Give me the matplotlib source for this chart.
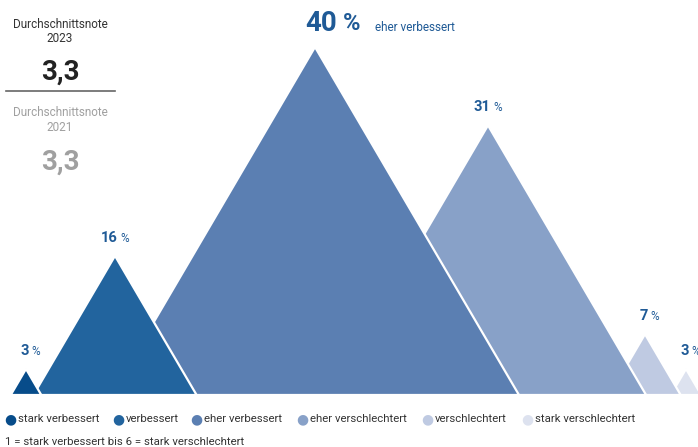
import matplotlib
matplotlib.use("Agg")
import matplotlib.pyplot as plt
from matplotlib.patches import Polygon

plt.rcParams['font.family'] = ['Roboto', 'DejaVu Sans']

# data
categories = ['stark verbessert', 'verbessert', 'eher verbessert',
              'eher verschlechtert', 'verschlechtert', 'stark verschlechtert']
values = [3, 16, 40, 31, 7, 3]
colors = ['#074c8a', '#22649e', '#5b7fb2', '#88a1c8', '#bfcae2', '#dde2ef']
note_2023 = '3,3'
note_2021 = '3,3'

# layout (pixels)
W, H = 698, 447
base_px = 395
px_per_pct = 8.7
half_w = 5.1          # half base width per percent, in px
centers = [26, 115, 315, 488, 645, 686]
legend_x = [10, 118, 196, 302, 427, 527]
label_blue = '#1f5a96'

fig = plt.figure(figsize=(W / 100, H / 100), dpi=100)
ax = fig.add_axes([0, (H - base_px) / H, 1, base_px / H])
ax.set_xlim(0, W)
ax.set_ylim(0, base_px / px_per_pct)
ax.axis('off')

for i, (c, v, col) in enumerate(zip(centers, values, colors)):
    tri = Polygon([(c - half_w * v, 0), (c, v), (c + half_w * v, 0)],
                  closed=True, facecolor=col, edgecolor='white',
                  linewidth=1.6, zorder=10 - i, clip_on=False)
    ax.add_patch(tri)
    if v == max(values):
        ax.annotate(str(v), (c, v), xytext=(16, 17), textcoords='offset points',
                    ha='right', va='center', fontsize=20, fontweight='semibold',
                    color=label_blue, zorder=20)
        ax.annotate('%', (c, v), xytext=(20, 17), textcoords='offset points',
                    ha='left', va='center', fontsize=17, fontweight='semibold',
                    color=label_blue, zorder=20)
        ax.annotate(categories[i], (c, v), xytext=(43, 14), textcoords='offset points',
                    ha='left', va='center', fontsize=8.5, color=label_blue, zorder=20)
    else:
        ax.annotate(str(v), (c, v), xytext=(2, 13), textcoords='offset points',
                    ha='right', va='center', fontsize=10.5, fontweight='semibold',
                    color=label_blue, zorder=20)
        ax.annotate('%', (c, v), xytext=(4, 12.5), textcoords='offset points',
                    ha='left', va='center', fontsize=8.5,
                    color=label_blue, zorder=20)


def ft(x, y, s, **kw):
    fig.text(x / W, 1 - y / H, s, **kw)


# left panel
ft(60, 24, 'Durchschnittsnote', ha='center', va='center', fontsize=8.5, color='#333333')
ft(60, 39, '2023', ha='center', va='center', fontsize=8.5, color='#333333')
ft(60, 72, note_2023, ha='center', va='center', fontsize=20, fontweight='semibold', color='#222222')
fig.add_artist(plt.Line2D([6 / W, 115 / W], [1 - 91 / H, 1 - 91 / H],
                          color='#666666', linewidth=1.2))
ft(60, 112, 'Durchschnittsnote', ha='center', va='center', fontsize=8.5, color='#a0a0a0')
ft(60, 127, '2021', ha='center', va='center', fontsize=8.5, color='#a0a0a0')
ft(60, 162, note_2021, ha='center', va='center', fontsize=20, fontweight='semibold', color='#a0a0a0')

# legend
for x, cat, col in zip(legend_x, categories, colors):
    ft(x, 419, '\u25cf', ha='center', va='center', fontsize=10, color=col)
    ft(x + 8, 419, cat, ha='left', va='center', fontsize=8.2, color='#333333')

ft(5, 442, '1 = stark verbessert bis 6 = stark verschlechtert', ha='left', va='center',
   fontsize=8.2, color='#333333')

fig.savefig('out.png', dpi=100)
